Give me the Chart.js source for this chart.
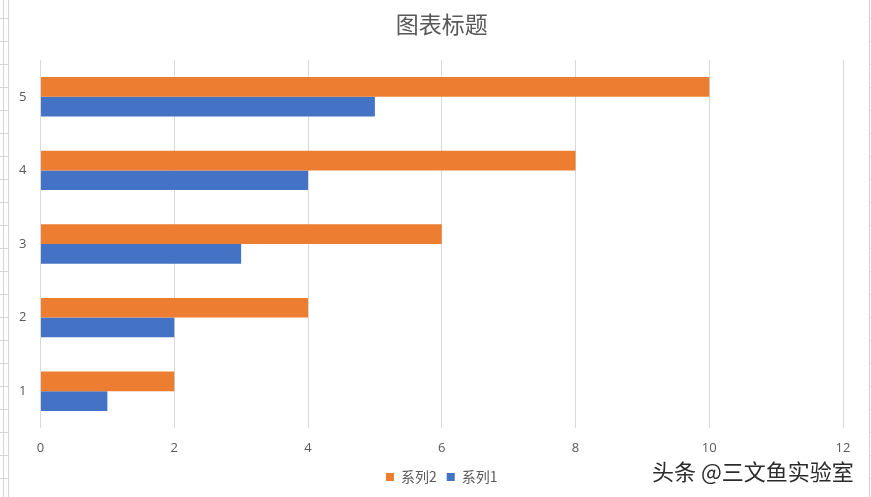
<!DOCTYPE html>
<html>
<head>
<meta charset="utf-8">
<script src="https://cdn.jsdelivr.net/npm/chart.js@4/dist/chart.umd.min.js"></script>
<style>
  body { margin: 0; background: #fff; }
  #wrap { position: relative; width: 871px; height: 497px; overflow: hidden; }
  #c { position: absolute; left: 0; top: 0; }
  /* spreadsheet cells peeking out on the left and right */
  .cells { position: absolute; top: 0; height: 497px;
    background-image: repeating-linear-gradient(to bottom, transparent 0 18px, #d4d4d4 18px 19px, transparent 19px 23px); }
  #leftcells { left: 0; width: 8px; border-right: 1px solid #d4d4d4; }
  #leftline { position: absolute; left: 3px; top: 0; width: 1px; height: 497px; background: #d4d4d4; }
  #rightcells { left: 869px; width: 2px; border-left: 1px solid #d4d4d4; }
  #mark { position: absolute; left: 652px; top: 454px; font-family: "Noto Sans CJK SC", sans-serif;
    font-size: 22px; color: #2b2b2b;
    text-shadow: 1px 1px 0 #fff, -1px -1px 0 #fff; }
</style>
</head>
<body>
<div id="wrap">
  <canvas id="c" width="871" height="497"></canvas>
  <div id="leftcells" class="cells"></div>
  <div id="leftline"></div>
  <div id="rightcells" class="cells"></div>
  <div id="mark">头条 @三文鱼实验室</div>
</div>
<script>
// chart data
const categories = ['1', '2', '3', '4', '5'];
const series1 = [1, 2, 3, 4, 5];
const series2 = [2, 4, 6, 8, 10];
const xTicks = [0, 2, 4, 6, 8, 10, 12];

const grey = '#595959';

new Chart(document.getElementById('c'), {
  type: 'bar',
  data: {
    labels: categories,
    datasets: [
      { label: '系列2', data: series2, backgroundColor: '#ED7D31' },
      { label: '系列1', data: series1, backgroundColor: '#4472C4' }
    ]
  },
  options: {
    indexAxis: 'y',
    responsive: false,
    animation: false,
    events: [],
    barPercentage: 1,
    categoryPercentage: 0.536,
    layout: { padding: { left: 0, right: 28, top: 0, bottom: 3 } },
    plugins: {
      // fullSize off: title and legend are centred over the plot, like the original
      title: {
        display: true,
        fullSize: false,
        text: '图表标题',
        color: grey,
        font: { family: '"Noto Sans CJK SC", sans-serif', size: 23, weight: 'normal' },
        padding: { top: 10, bottom: 22.4 }
      },
      legend: {
        position: 'bottom',
        fullSize: false,
        labels: {
          color: grey,
          boxWidth: 8,
          boxHeight: 8,
          padding: 10,
          font: { family: '"Noto Sans CJK SC", sans-serif', size: 14 }
        }
      },
      tooltip: { enabled: false }
    },
    scales: {
      x: {
        min: 0,
        max: 12,
        afterBuildTicks: (axis) => { axis.ticks = xTicks.map(v => ({ value: v })); },
        afterFit: (axis) => { axis.height = 32; },
        grid: { color: '#d9d9d9', drawTicks: false },
        border: { display: false },
        ticks: {
          color: grey,
          padding: 12,
          font: { family: '"Open Sans", sans-serif', size: 13 }
        }
      },
      y: {
        reverse: true,
        afterFit: (axis) => { axis.width = 40.5; },
        grid: { display: false },
        border: { display: false },
        ticks: {
          color: grey,
          padding: 6,
          font: { family: '"Open Sans", sans-serif', size: 13 }
        }
      }
    }
  }
});
</script>
</body>
</html>
